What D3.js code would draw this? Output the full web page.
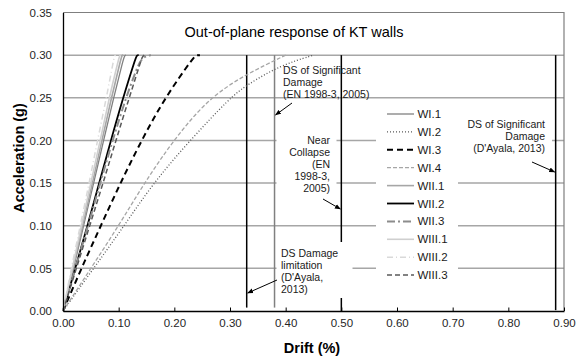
<!DOCTYPE html>
<html>
<head>
<meta charset="utf-8">
<script src="https://cdn.jsdelivr.net/npm/d3@7"></script>
<style>
  body { margin: 0; background: #fff; }
  text { font-family: "Liberation Sans", Arial, sans-serif; }
</style>
</head>
<body>
<div id="chart"></div>
<script>
// Chart values
const title = "Out-of-plane response of KT walls";
const xTicks = [0, 0.1, 0.2, 0.3, 0.4, 0.5, 0.6, 0.7, 0.8, 0.9];
const yTicks = [0, 0.05, 0.1, 0.15, 0.2, 0.25, 0.3, 0.35];

const seriesNames = ["WI.1", "WI.2", "WI.3", "WI.4", "WII.1", "WII.2", "WII.3", "WIII.1", "WIII.2", "WIII.3"];

// [drift %, acceleration g]
const WI_1 = [[0, 0], [0.019, 0.05], [0.037, 0.10], [0.055, 0.15], [0.073, 0.20], [0.091, 0.25], [0.107, 0.292], [0.111, 0.30], [0.113, 0.30]];
const WI_2 = [[0, 0], [0.055, 0.05], [0.11, 0.10], [0.162, 0.15], [0.228, 0.20], [0.30, 0.25], [0.33, 0.265], [0.39, 0.288], [0.45, 0.30]];
const WI_3 = [[0, 0], [0.033, 0.05], [0.068, 0.10], [0.103, 0.15], [0.141, 0.20], [0.183, 0.25], [0.236, 0.299], [0.240, 0.30], [0.246, 0.30]];
const WI_4 = [[0, 0], [0.05, 0.05], [0.10, 0.10], [0.146, 0.15], [0.198, 0.20], [0.262, 0.25], [0.33, 0.278], [0.40, 0.30]];
const WII_1 = [[0, 0], [0.018, 0.05], [0.035, 0.10], [0.053, 0.15], [0.07, 0.20], [0.087, 0.25], [0.103, 0.293], [0.106, 0.30], [0.108, 0.30]];
const WII_2 = [[0, 0], [0.022, 0.05], [0.044, 0.10], [0.065, 0.15], [0.086, 0.20], [0.108, 0.25], [0.13, 0.296], [0.133, 0.30], [0.136, 0.30]];
const WII_3 = [[0, 0], [0.022, 0.05], [0.045, 0.10], [0.067, 0.15], [0.089, 0.20], [0.113, 0.25], [0.134, 0.287], [0.143, 0.298], [0.158, 0.30]];
const WIII_1 = [[0, 0], [0.017, 0.05], [0.033, 0.10], [0.05, 0.15], [0.067, 0.20], [0.083, 0.25], [0.099, 0.293], [0.102, 0.30], [0.104, 0.30]];
const WIII_2 = [[0, 0], [0.015, 0.05], [0.031, 0.10], [0.047, 0.15], [0.062, 0.20], [0.078, 0.25], [0.091, 0.295], [0.093, 0.30], [0.095, 0.30]];
const WIII_3 = [[0, 0], [0.024, 0.05], [0.048, 0.10], [0.072, 0.15], [0.095, 0.20], [0.119, 0.25], [0.137, 0.287], [0.142, 0.298], [0.146, 0.30]];

const seriesData = [WI_1, WI_2, WI_3, WI_4, WII_1, WII_2, WII_3, WIII_1, WIII_2, WIII_3];

// Damage state drift limits (vertical lines)
const limitDrifts = [0.33, 0.38, 0.50, 0.885];
const limitBottom = [0.004, 0.004, 0, 0.001];
const limitTop = 0.30;

const annotations = [
    ["DS of Significant", "Damage", "(EN 1998-3, 2005)"],
    ["Near", "Collapse", "(EN", "1998-3,", "2005)"],
    ["DS Damage", "limitation", "(D'Ayala,", "2013)"],
    ["DS of Significant", "Damage", "(D'Ayala, 2013)"]
];

// ---- styles ----
const seriesStyle = [
    { color: "#808080", width: 1.3, dash: null },
    { color: "#595959", width: 1.3, dash: "1,2" },
    { color: "#000000", width: 2, dash: "6,4" },
    { color: "#a6a6a6", width: 1.3, dash: "4,2" },
    { color: "#a6a6a6", width: 1.6, dash: null },
    { color: "#000000", width: 1.8, dash: null },
    { color: "#8c8c8c", width: 2, dash: "8,3,2,3" },
    { color: "#cfcfcf", width: 1.6, dash: null },
    { color: "#d9d9d9", width: 1.5, dash: "6,3,1,3" },
    { color: "#595959", width: 1.5, dash: "5,3" }
];
const limitColors = ["#000", "#808080", "#000", "#000"];

const width = 579, height = 359;
const margin = { top: 12.5, right: 15, bottom: 48, left: 63 };

const x = d3.scaleLinear().domain([0, 0.9]).range([margin.left, 564]);
const y = d3.scaleLinear().domain([0, 0.35]).range([311, margin.top]);

const svg = d3.select("#chart")
    .append("svg")
    .attr("width", width)
    .attr("height", height);

svg.append("defs").append("marker")
    .attr("id", "arrow")
    .attr("viewBox", "0 0 10 10")
    .attr("refX", 9).attr("refY", 5)
    .attr("markerWidth", 6).attr("markerHeight", 6)
    .attr("orient", "auto")
    .append("path")
    .attr("d", "M0,1 L10,5 L0,9 Z")
    .attr("fill", "#000");

// gridlines
svg.append("g")
    .selectAll("line")
    .data(yTicks.filter(d => d > 0 && d < 0.35))
    .enter()
    .append("line")
    .attr("x1", x(0)).attr("x2", x(0.9))
    .attr("y1", d => y(d)).attr("y2", d => y(d))
    .attr("stroke", "#a6a6a6")
    .attr("stroke-width", 1.5);

// plot border (top and right)
svg.append("path")
    .attr("d", `M${x(0)},${y(0.35)} H${x(0.9)} V${y(0)}`)
    .attr("fill", "none")
    .attr("stroke", "#7f7f7f")
    .attr("stroke-width", 1.2);

// vertical limit lines
svg.append("g")
    .selectAll("line")
    .data(limitDrifts)
    .enter()
    .append("line")
    .attr("x1", d => x(d)).attr("x2", d => x(d))
    .attr("y1", (d, i) => y(limitBottom[i])).attr("y2", y(limitTop))
    .attr("stroke", (d, i) => limitColors[i])
    .attr("stroke-width", 1.5);

// white boxes behind labels and legend
const boxes = [
    [276.5, 128, 60, 68],
    [276.5, 242, 76, 56],
    [376, 104, 82, 184],
    [458, 114, 94, 44]
];
svg.append("g")
    .selectAll("rect")
    .data(boxes)
    .enter()
    .append("rect")
    .attr("x", d => d[0]).attr("y", d => d[1])
    .attr("width", d => d[2]).attr("height", d => d[3])
    .attr("fill", "#fff");

// curves
const line = d3.line()
    .x(d => x(d[0]))
    .y(d => y(d[1]))
    .curve(d3.curveBasis);

svg.append("g")
    .selectAll("path")
    .data(seriesData)
    .enter()
    .append("path")
    .attr("d", line)
    .attr("fill", "none")
    .attr("stroke", (d, i) => seriesStyle[i].color)
    .attr("stroke-width", (d, i) => seriesStyle[i].width)
    .attr("stroke-dasharray", (d, i) => seriesStyle[i].dash);

// axes
const xAxis = svg.append("g")
    .attr("transform", `translate(0,${y(0)})`)
    .call(d3.axisBottom(x).tickValues(xTicks).tickFormat(d3.format(".2f")).tickSizeInner(-3.5).tickSizeOuter(0).tickPadding(8));
xAxis.select(".domain").attr("stroke", "#000").attr("stroke-width", 1.3);
xAxis.selectAll(".tick line").attr("stroke", "#000");
xAxis.selectAll("text").attr("font-size", 11.5).attr("fill", "#262626");

const yAxis = svg.append("g")
    .attr("transform", `translate(${x(0)},0)`)
    .call(d3.axisLeft(y).tickValues(yTicks).tickFormat(d3.format(".2f")).tickSize(0).tickPadding(11));
yAxis.select(".domain").attr("stroke", "#000").attr("stroke-width", 1.3);
yAxis.selectAll("text").attr("font-size", 11.5).attr("fill", "#262626");

// axis titles
svg.append("text")
    .attr("x", 312).attr("y", 353)
    .attr("text-anchor", "middle")
    .attr("font-size", 14.5).attr("font-weight", "bold")
    .attr("fill", "#000")
    .text("Drift (%)");

svg.append("text")
    .attr("transform", "translate(24,158) rotate(-90)")
    .attr("text-anchor", "middle")
    .attr("font-size", 14.5).attr("font-weight", "bold")
    .attr("fill", "#000")
    .text("Acceleration (g)");

// chart title
svg.append("text")
    .attr("x", 294).attr("y", 37)
    .attr("text-anchor", "middle")
    .attr("font-size", 14.5)
    .attr("fill", "#000")
    .text(title);

// annotation labels
const annoPos = [
    { x: 283, y: 74, anchor: "start" },
    { x: 330, y: 144, anchor: "end" },
    { x: 281, y: 257, anchor: "start" },
    { x: 545, y: 128, anchor: "end" }
];
annotations.forEach((lines, i) => {
    const t = svg.append("text")
        .attr("font-size", 10.5)
        .attr("fill", "#1a1a1a")
        .attr("text-anchor", annoPos[i].anchor);
    lines.forEach((s, j) => {
        t.append("tspan")
            .attr("x", annoPos[i].x)
            .attr("y", annoPos[i].y + j * 12)
            .text(s);
    });
});

// arrows from labels to limit lines
const arrows = [
    [[292, 103], [x(limitDrifts[1]) + 1, 115]],
    [[323, 199], [x(limitDrifts[2]) - 1, 209]],
    [[277, 280], [x(limitDrifts[0]) + 1, 293]],
    [[532, 162], [x(limitDrifts[3]) - 1, 172]]
];
svg.append("g")
    .selectAll("line")
    .data(arrows)
    .enter()
    .append("line")
    .attr("x1", d => d[0][0]).attr("y1", d => d[0][1])
    .attr("x2", d => d[1][0]).attr("y2", d => d[1][1])
    .attr("stroke", "#000")
    .attr("stroke-width", 1)
    .attr("marker-end", "url(#arrow)");

// legend
const legend = svg.append("g")
    .selectAll("g")
    .data(seriesNames)
    .enter()
    .append("g")
    .attr("transform", (d, i) => `translate(387,${114 + i * 17.9})`);

legend.append("line")
    .attr("x1", 0).attr("x2", 27)
    .attr("stroke", (d, i) => seriesStyle[i].color)
    .attr("stroke-width", (d, i) => seriesStyle[i].width)
    .attr("stroke-dasharray", (d, i) => seriesStyle[i].dash);

legend.append("text")
    .attr("x", 30.5).attr("y", 4)
    .attr("font-size", 11.5)
    .attr("fill", "#1a1a1a")
    .text(d => d);
</script>
</body>
</html>
